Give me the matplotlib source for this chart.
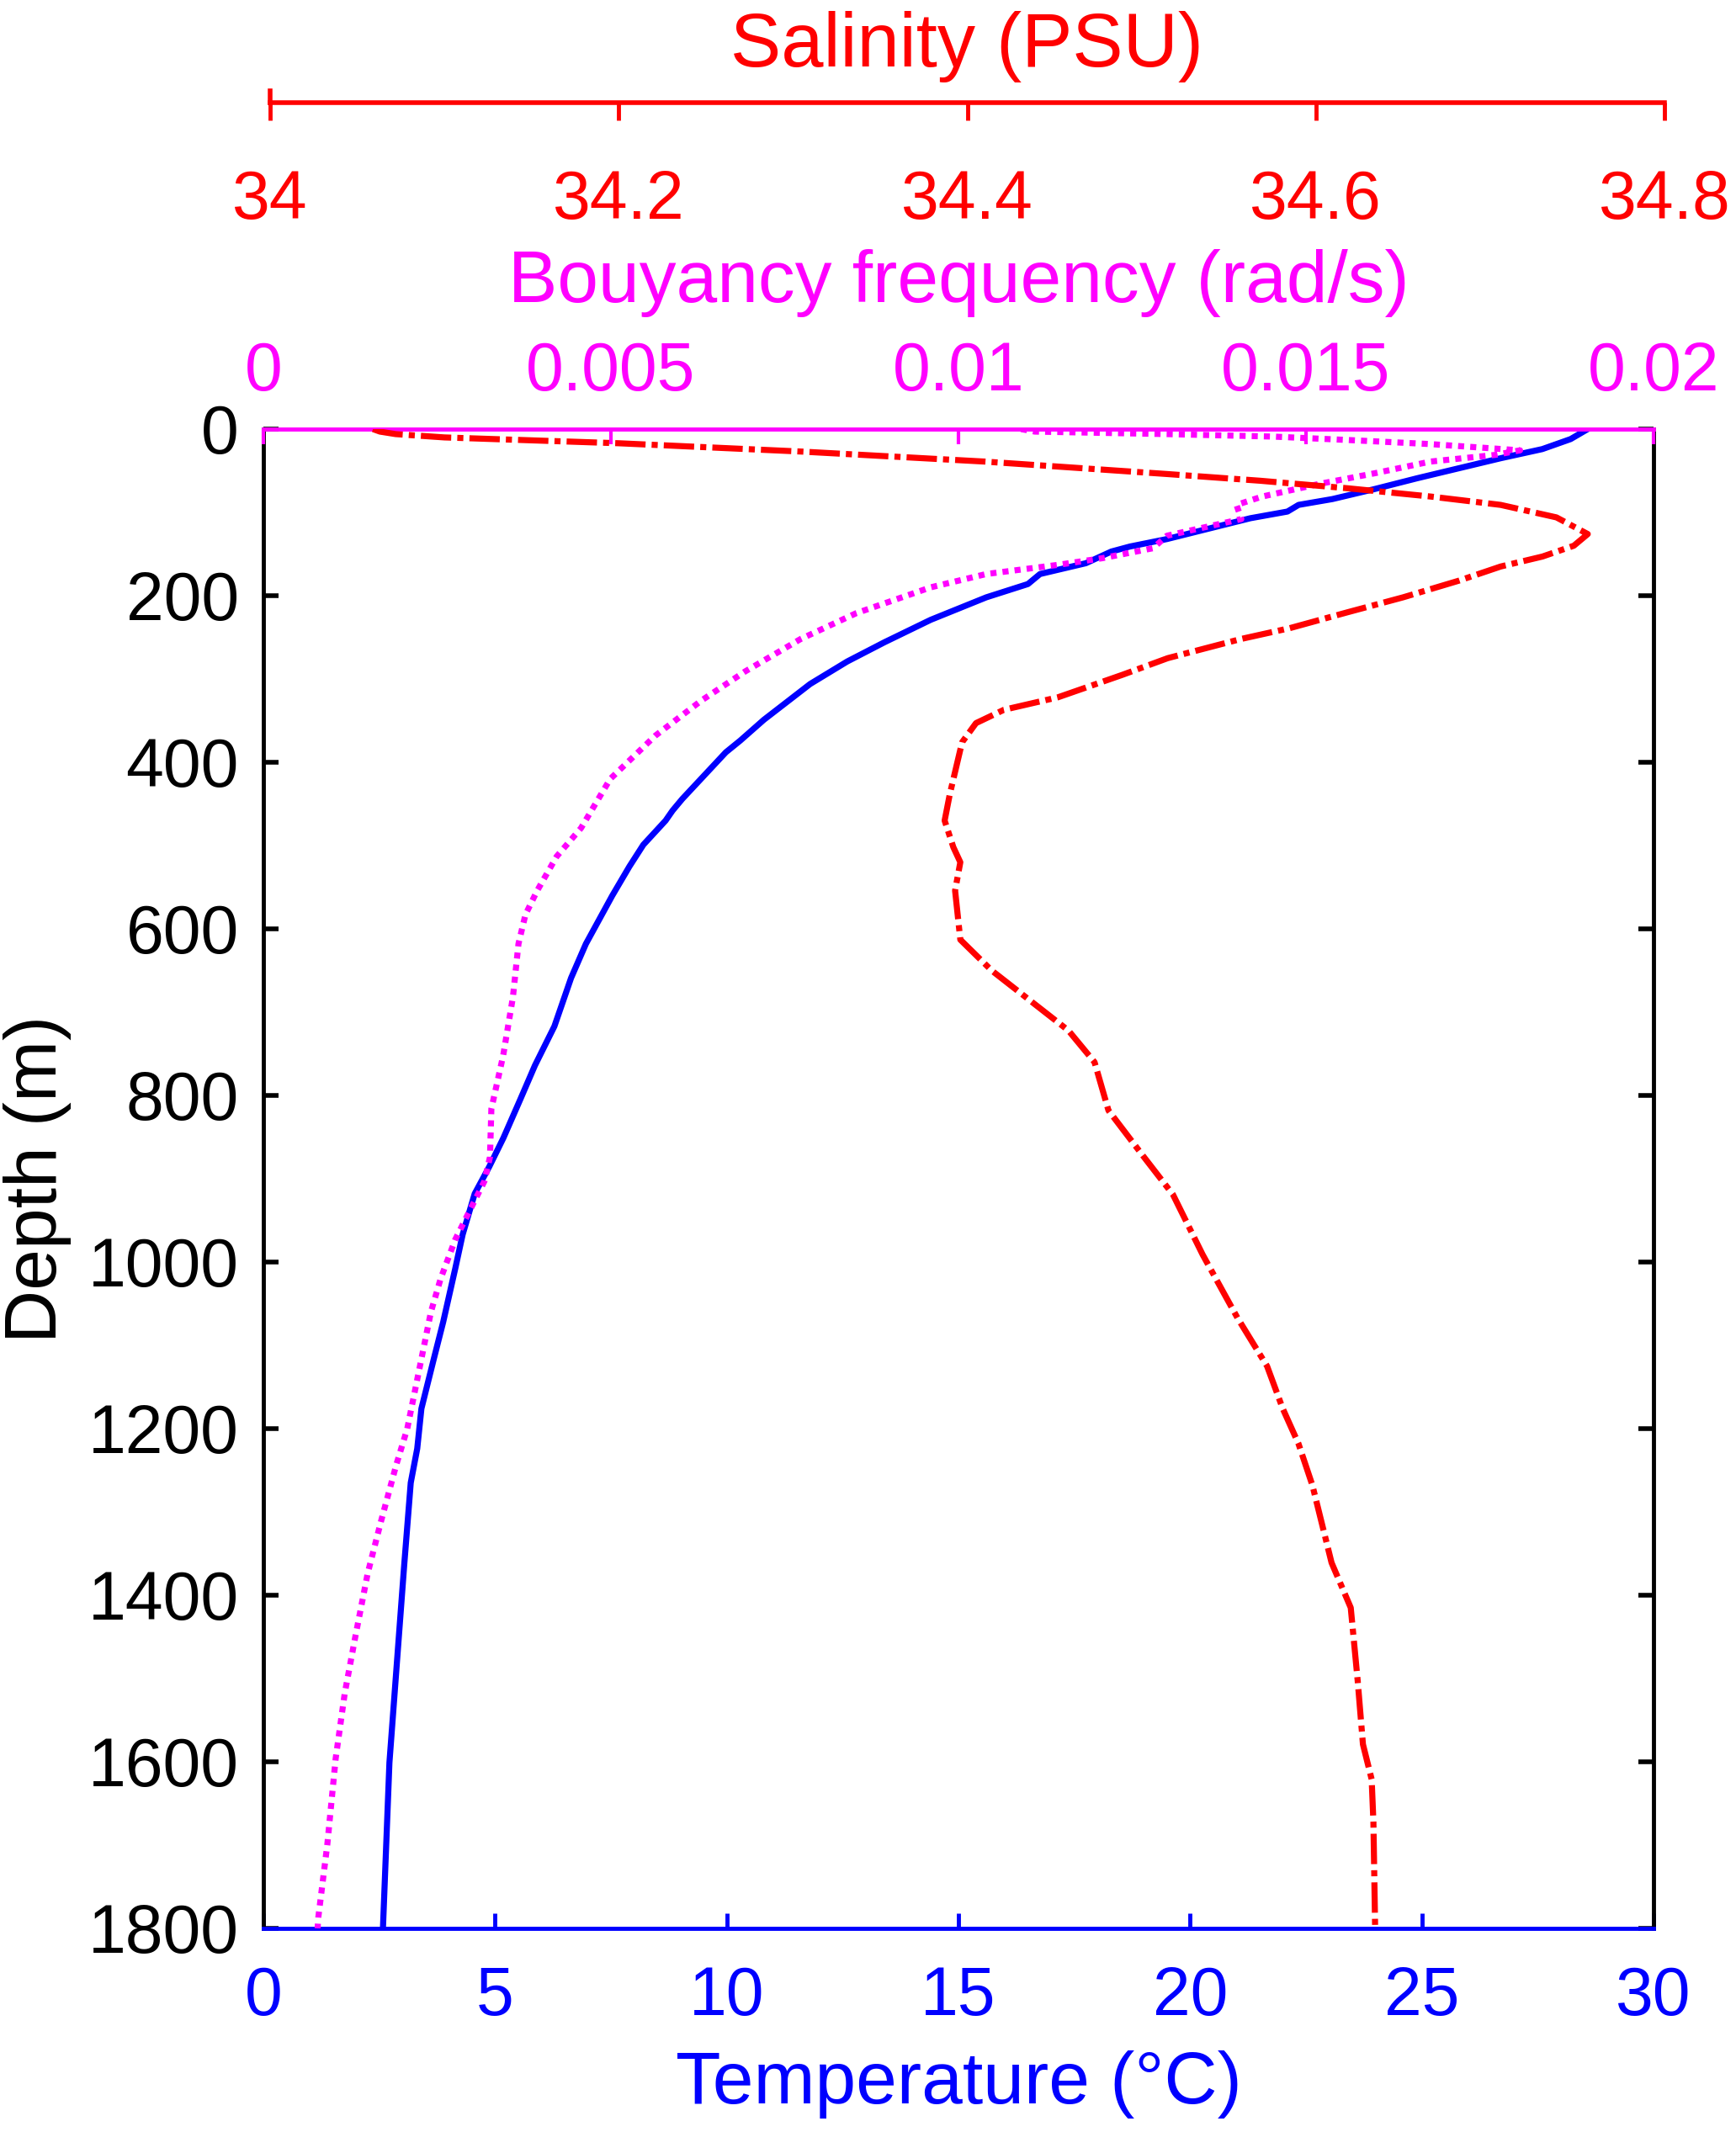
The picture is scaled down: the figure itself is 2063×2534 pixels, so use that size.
import numpy as np
import matplotlib
matplotlib.use("Agg")
import matplotlib.pyplot as plt

# ---------------- data ----------------
depth_temp = [0, 12, 24, 35, 47, 59, 72, 84, 91, 99, 107, 132, 141, 147, 161, 174, 186,
              202, 229, 256, 279, 306, 349, 374, 388, 444, 458, 470, 499, 525, 560, 618,
              659, 717, 764, 804, 851, 886, 918, 967, 1008, 1072, 1118, 1176, 1224, 1265,
              1363, 1467, 1601, 1800]
temp = [28.58, 28.21, 27.6, 26.7, 25.8, 24.9, 23.98, 23.07, 22.34, 22.1, 21.3, 19.5, 18.7,
        18.3, 17.75, 16.76, 16.5, 15.6, 14.4, 13.4, 12.6, 11.8, 10.8, 10.29, 9.98, 9.04,
        8.83, 8.68, 8.2, 7.9, 7.53, 6.96, 6.64, 6.28, 5.86, 5.55, 5.18, 4.87, 4.56, 4.3,
        4.14, 3.88, 3.67, 3.41, 3.32, 3.18, 3.04, 2.9, 2.72, 2.58]

depth_salt = [0, 3, 6, 10, 17, 27, 39, 54, 62, 71, 81, 91, 106, 126, 140, 153, 165, 182,
              202, 220, 239, 252, 275, 295, 322, 337, 353, 376, 438, 470, 502, 520, 554,
              613, 650, 722, 760, 818, 873, 919, 991, 1067, 1125, 1176, 1218, 1268, 1361,
              1415, 1503, 1579, 1621, 1672, 1800]
salt = [34.059, 34.063, 34.072, 34.100, 34.200, 34.305, 34.410, 34.515, 34.568, 34.618,
        34.666, 34.706, 34.738, 34.756, 34.748, 34.730, 34.706, 34.682, 34.650, 34.618,
        34.585, 34.557, 34.515, 34.489, 34.452, 34.421, 34.405, 34.397, 34.390, 34.387,
        34.392, 34.396, 34.393, 34.396, 34.414, 34.458, 34.473, 34.481, 34.501, 34.518,
        34.535, 34.555, 34.572, 34.581, 34.590, 34.598, 34.609, 34.620, 34.624, 34.627,
        34.632, 34.633, 34.634]

depth_n = [0, 3, 6, 9, 13, 18, 25.5, 31, 39, 53, 66, 81, 91, 108, 128, 143, 155, 163, 174,
           190, 221, 252, 291, 326, 368, 420, 479, 513, 554, 583, 618, 682, 752, 816, 874,
           903, 938, 973, 1020, 1060, 1130, 1200, 1244, 1312, 1374, 1451, 1518, 1596,
           1699, 1787, 1800]
bvf = [0.0109, 0.0111, 0.0130, 0.01453, 0.01558, 0.01679, 0.01808, 0.01772, 0.01679,
       0.01599, 0.01518, 0.01437, 0.0140, 0.01407, 0.0130, 0.0128, 0.01207, 0.01143,
       0.0104, 0.0096, 0.00853, 0.00773, 0.00693, 0.0063, 0.00564, 0.00499, 0.00457,
       0.00422, 0.00394, 0.00377, 0.00367, 0.00359, 0.00345, 0.00328, 0.00326, 0.00318,
       0.00297, 0.00276, 0.00255, 0.00241, 0.00224, 0.00207, 0.00191, 0.00169, 0.0015,
       0.00132, 0.00117, 0.00104, 0.00092, 0.00079, 0.00078]

temp_ticks = [0, 5, 10, 15, 20, 25, 30]
depth_ticks = [0, 200, 400, 600, 800, 1000, 1200, 1400, 1600, 1800]
n_ticks = [0, 0.005, 0.01, 0.015, 0.02]
n_ticklabels = ['0', '0.005', '0.01', '0.015', '0.02']
salt_ticks = [34, 34.2, 34.4, 34.6, 34.8]
salt_ticklabels = ['34', '34.2', '34.4', '34.6', '34.8']

plt.rcParams['font.family'] = ['Liberation Sans', 'DejaVu Sans']
tfs = 58   # tick labels
lfs = 63   # axis labels
lw = 5.2

W, H = 2063, 2534
fig = plt.figure(figsize=(W / 100, H / 100), dpi=100)

# main axes: temperature (bottom) vs depth
L, R, T, B = 313, 1965, 510, 2292
main_pos = [L / W, 1 - B / H, (R - L) / W, (B - T) / H]
ax = fig.add_axes(main_pos)
ax.plot(temp, depth_temp, color='blue', lw=lw)
ax.set_xlim(0, 30)
ax.set_ylim(1800, 0)
ax.set_xticks(temp_ticks)
ax.set_yticks(depth_ticks)
ax.tick_params(axis='x', direction='in', length=13, width=3.5, color='blue',
               labelcolor='blue', labelsize=tfs, pad=32)
ax.tick_params(axis='y', direction='in', length=13, width=4, color='black',
               labelsize=tfs, pad=21, right=True)
ax.spines['top'].set_visible(False)
ax.spines['bottom'].set_color('blue')
for s in ['bottom', 'left', 'right']:
    ax.spines[s].set_linewidth(3.5)
ax.set_xlabel('Temperature (°C)', color='blue', fontsize=lfs, labelpad=18)
ax.set_ylabel('Depth (m)', fontsize=lfs, labelpad=14)

# buoyancy frequency on top of the main frame
axN = ax.twiny()
axN.plot(bvf, depth_n, color='magenta', lw=lw, ls=(0, (1, 1)), dash_capstyle='butt')
axN.set_xlim(0, 0.02)
axN.set_xticks(n_ticks)
axN.set_xticklabels(n_ticklabels)
axN.tick_params(axis='x', direction='in', length=13, width=3, color='magenta',
                labelcolor='magenta', labelsize=tfs, pad=21)
for s in ['bottom', 'left', 'right']:
    axN.spines[s].set_visible(False)
axN.spines['top'].set_color('magenta')
axN.spines['top'].set_linewidth(3.5)
axN.set_xlabel('Bouyancy frequency (rad/s)', color='magenta', fontsize=lfs, labelpad=33)

# separate salinity scale bar at the very top
SL, SR, SY = 321, 1978, 122
sal_pos = [SL / W, 1 - SY / H, (SR - SL) / W, 14 / H]
axS = fig.add_axes(sal_pos)
axS.patch.set_visible(False)
axS.set_xlim(34, 34.8)
axS.set_xticks(salt_ticks)
axS.set_xticklabels(salt_ticklabels)
axS.set_yticks([])
axS.tick_params(axis='x', direction='out', length=15, width=3.5, color='red',
                labelcolor='red', labelsize=tfs, pad=42)
axS.spines['top'].set_visible(False)
axS.spines['right'].set_visible(False)
for s in ['bottom', 'left']:
    axS.spines[s].set_color('red')
    axS.spines[s].set_linewidth(4)
axS.xaxis.set_label_position('top')
axS.set_xlabel('Salinity (PSU)', color='red', fontsize=65, labelpad=21)

# salinity curve in the main frame, scaled to the bar above
axR = ax.twiny()
scale = 0.8 / (SR - SL)
axR.set_xlim(34 - (SL - L) * scale, 34.8 + (R - SR) * scale)
axR.plot(salt, depth_salt, color='red', lw=lw, ls=(0, (5, 1, 1, 1)),
         dash_capstyle='butt')
axR.xaxis.set_visible(False)
for s in axR.spines.values():
    s.set_visible(False)

fig.savefig('out.png', dpi=100)
